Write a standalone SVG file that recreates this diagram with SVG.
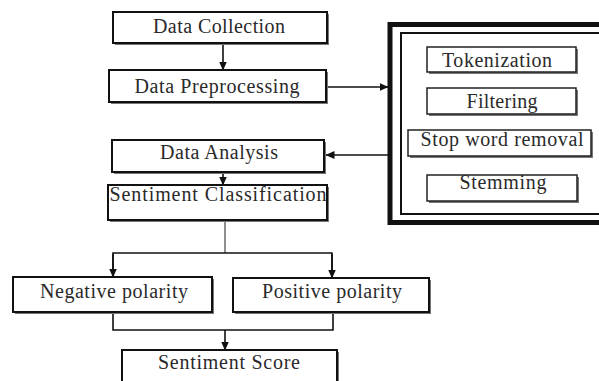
<svg xmlns="http://www.w3.org/2000/svg" width="599" height="381" viewBox="0 0 599 381">
<defs>
<marker id="ah" markerWidth="9" markerHeight="8" refX="8.5" refY="4" orient="auto" markerUnits="userSpaceOnUse">
<path d="M0,0 L9,4 L0,8 Z" fill="#111"/>
</marker>
</defs>
<style>
.sh{fill:#777;}
.box{fill:#fff;stroke:#111;stroke-width:2;}
.sbox{fill:#fff;stroke:#222;stroke-width:1.5;}
.t{font-family:"Liberation Serif","Times New Roman",serif;font-size:20px;fill:#2a2a2a;}
.c{fill:none;stroke:#111;stroke-width:1.6;}
.c2{fill:none;stroke:#444;stroke-width:1.2;}
</style>
<rect width="599" height="381" fill="#fff"/>

<g id="connectors">
<line class="c" x1="223" y1="44" x2="223" y2="70" marker-end="url(#ah)"/>
<line class="c" x1="328" y1="87" x2="388" y2="87" marker-end="url(#ah)"/>
<line class="c" x1="388" y1="155" x2="326" y2="155" marker-end="url(#ah)"/>
<line class="c" x1="223" y1="173" x2="223" y2="185" marker-end="url(#ah)"/>
<line class="c2" x1="225" y1="221" x2="225" y2="253"/>
<polyline class="c" points="113,270 113,253 332,253 332,270" />
<line class="c" x1="113" y1="254" x2="113" y2="277" marker-end="url(#ah)"/>
<line class="c" x1="332" y1="254" x2="332" y2="278" marker-end="url(#ah)"/>
<polyline class="c" points="113,313 113,330 333,330 333,313"/>
<line class="c" x1="225" y1="330" x2="225" y2="350" marker-end="url(#ah)"/>
</g>

<g id="data-collection">
<rect class="sh" x="115" y="14" width="214" height="31"/>
<rect class="box" x="113" y="12" width="214" height="31"/>
<text class="t" x="219" y="33" text-anchor="middle" textLength="132">Data Collection</text>
</g>

<g id="data-preprocessing">
<rect class="sh" x="111" y="72" width="217" height="32"/>
<rect class="box" x="109" y="70" width="217" height="32"/>
<text class="t" x="217" y="93" text-anchor="middle" textLength="165">Data Preprocessing</text>
</g>

<g id="preprocessing-steps">
<rect x="390" y="24.5" width="215" height="198" fill="#fff" stroke="#111" stroke-width="5"/>
<rect x="401" y="33" width="205" height="181" fill="none" stroke="#111" stroke-width="2"/>
<g id="tokenization">
<rect class="sh" x="429" y="49" width="149" height="25"/>
<rect class="sbox" x="427" y="47" width="149" height="25"/>
<text class="t" x="497" y="67" text-anchor="middle" textLength="110">Tokenization</text>
</g>
<g id="filtering">
<rect class="sh" x="429" y="90" width="149" height="26"/>
<rect class="sbox" x="427" y="88" width="149" height="26"/>
<text class="t" x="502" y="108" text-anchor="middle" textLength="71">Filtering</text>
</g>
<g id="stop-word-removal">
<rect class="sh" x="410" y="132" width="183" height="26"/>
<rect class="sbox" x="408" y="130" width="183" height="26"/>
<text class="t" x="502" y="146" text-anchor="middle" textLength="163">Stop word removal</text>
</g>
<g id="stemming">
<rect class="sh" x="429" y="177" width="150" height="26"/>
<rect class="sbox" x="427" y="175" width="150" height="26"/>
<text class="t" x="503" y="189" text-anchor="middle" textLength="87">Stemming</text>
</g>
</g>

<g id="data-analysis">
<rect class="sh" x="114" y="142" width="212" height="32"/>
<rect class="box" x="112" y="140" width="212" height="32"/>
<text class="t" x="219" y="159" text-anchor="middle" textLength="118">Data Analysis</text>
</g>

<g id="sentiment-classification">
<rect class="sh" x="110" y="187" width="219" height="35"/>
<rect class="box" x="108" y="185" width="219" height="35"/>
<text class="t" x="218" y="201" text-anchor="middle" textLength="217">Sentiment Classification</text>
</g>

<g id="negative-polarity">
<rect class="sh" x="15" y="279" width="199" height="35"/>
<rect class="box" x="13" y="277" width="199" height="35"/>
<text class="t" x="114" y="298" text-anchor="middle" textLength="148">Negative polarity</text>
</g>

<g id="positive-polarity">
<rect class="sh" x="235" y="280" width="196" height="34"/>
<rect class="box" x="233" y="278" width="196" height="34"/>
<text class="t" x="332" y="298" text-anchor="middle" textLength="140">Positive polarity</text>
</g>

<g id="sentiment-score">
<rect class="sh" x="124" y="352" width="215" height="45"/>
<rect class="box" x="122" y="350" width="215" height="45"/>
<text class="t" x="229" y="369" text-anchor="middle" textLength="142">Sentiment Score</text>
</g>
</svg>
